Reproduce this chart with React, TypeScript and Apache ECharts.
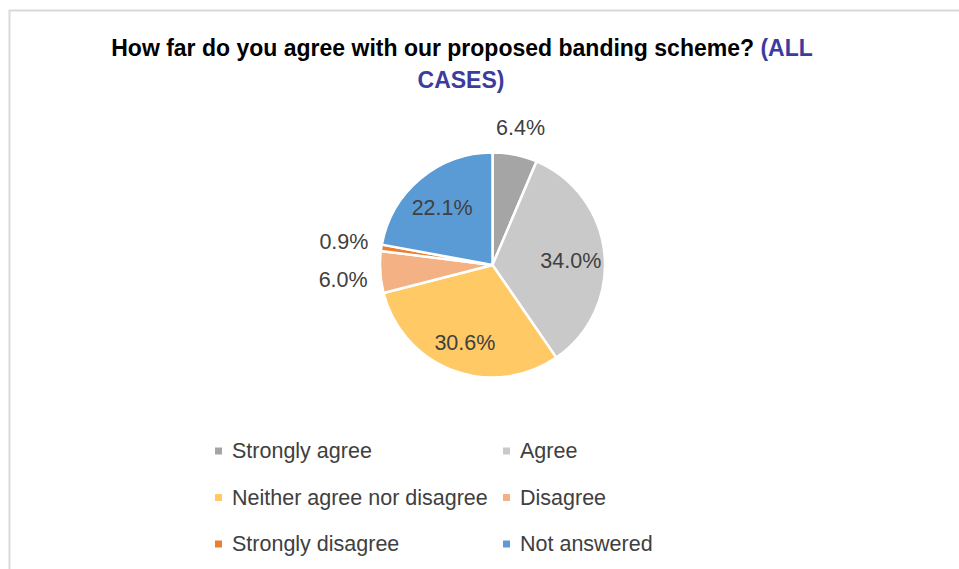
import React, { useEffect, useRef } from "react";
import * as echarts from "echarts";

const categories = [
  "Strongly agree",
  "Agree",
  "Neither agree nor disagree",
  "Disagree",
  "Strongly disagree",
  "Not answered",
];
const values = [6.4, 34.0, 30.6, 6.0, 0.9, 22.1];
const colors = ["#a5a5a5", "#c9c9c9", "#ffc965", "#f4b183", "#ed7d31", "#5b9bd5"];
const leftLegend = ["Strongly agree", "Neither agree nor disagree", "Strongly disagree"];
const rightLegend = ["Agree", "Disagree", "Not answered"];
const titleMain = "How far do you agree with our proposed banding scheme?";
const titleAccent1 = "(ALL";
const titleAccent2 = "CASES)";

const FONT = "'Liberation Sans', Arial, sans-serif";
const CX = 492.5;
const CY = 265;
const R = 112.5;
const OUTSIDE_LIMIT = 10;

export default function App() {
  const ref = useRef<HTMLDivElement>(null);
  useEffect(() => {
    if (!ref.current) return;
    const chart = echarts.init(ref.current, undefined, { renderer: "svg" });
    const total = values.reduce((a, b) => a + b, 0);
    const mids: number[] = [];
    let acc = 0;
    values.forEach((v) => {
      mids.push(((acc + v / 2) / total) * Math.PI * 2);
      acc += v;
    });

    const legendBase = {
      orient: "vertical" as const,
      top: 440,
      padding: 0,
      itemGap: 24.5,
      itemWidth: 9,
      itemHeight: 9,
      icon: "rect",
      selectedMode: false,
      textStyle: {
        fontFamily: FONT,
        fontSize: 21.5,
        lineHeight: 21,
        color: "#404040",
        padding: [0, 0, 0, 4],
      },
    };

    const titleFont = {
      fontFamily: FONT,
      fontSize: 23,
      fontWeight: "bold" as const,
      lineHeight: 32,
    };

    chart.setOption({
      animation: false,
      color: colors,
      graphic: [
        {
          type: "rect",
          shape: { x: 9.5, y: 10.5, width: 1200, height: 1200 },
          style: { fill: "none", stroke: "#d9d9d9", lineWidth: 2 },
          silent: true,
        },
        {
          type: "text",
          x: 462,
          y: 32,
          style: {
            text: `${titleMain} {b|${titleAccent1}}`,
            align: "center",
            verticalAlign: "top",
            ...titleFont,
            fill: "#000000",
            rich: { b: { ...titleFont, fill: "#3c3c9c" } },
          },
        },
        {
          type: "text",
          x: 461,
          y: 64,
          style: {
            text: titleAccent2,
            align: "center",
            verticalAlign: "top",
            ...titleFont,
            fill: "#3c3c9c",
          },
        },
      ],
      legend: [
        { ...legendBase, left: 213, data: leftLegend },
        { ...legendBase, left: 501, data: rightLegend },
      ],
      series: [
        {
          type: "pie",
          center: [CX, CY],
          radius: R,
          startAngle: 90,
          clockwise: true,
          itemStyle: { borderColor: "#ffffff", borderWidth: 2.5 },
          label: {
            show: true,
            position: "inside",
            fontFamily: FONT,
            fontSize: 21.5,
            color: "#404040",
            formatter: (p: any) => `${Number(p.value).toFixed(1)}%`,
          },
          labelLine: { show: false },
          emphasis: { disabled: true },
          labelLayout: (params: any) => {
            const i = params.dataIndex;
            const a = mids[i];
            const dx = Math.sin(a);
            const dy = -Math.cos(a);
            const w = params.labelRect.width;
            const h = params.labelRect.height;
            if (values[i] < OUTSIDE_LIMIT) {
              const px = CX + dx * (R + 12);
              const py = CY + dy * (R + 12);
              const ext = (w / 2) * Math.abs(dx) + (h / 2) * Math.abs(dy);
              return {
                x: px + dx * ext,
                y: py + dy * ext + (dy > 0 ? 6 : 0),
                align: "center",
                verticalAlign: "middle",
              };
            }
            const f = 0.7;
            return {
              x: CX + dx * R * f,
              y: CY + dy * R * f + 4,
              align: "center",
              verticalAlign: "middle",
            };
          },
          data: categories.map((name, i) => ({ name, value: values[i] })),
        },
      ],
    });
    return () => chart.dispose();
  }, []);
  return (
    <div
      ref={ref}
      style={{ position: "fixed", left: 0, top: 0, width: 959, height: 569, background: "#ffffff" }}
    />
  );
}
